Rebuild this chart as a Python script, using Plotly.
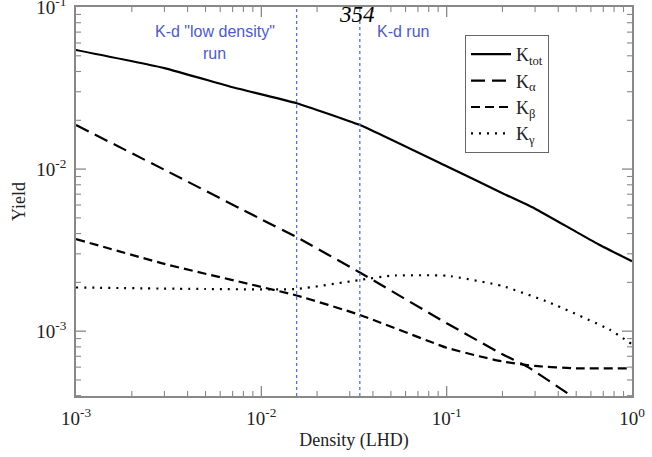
import plotly.graph_objects as go

# Data
x_tot = [1e-3, 3e-3, 7e-3, 0.0155, 0.034, 0.1, 0.2, 0.3, 0.5, 0.67, 1.0]
y_tot = [0.0543, 0.042, 0.032, 0.0255, 0.0187, 0.0104, 0.0071, 0.0057, 0.0041, 0.0034, 0.0027]

x_alpha = [1e-3, 3e-3, 0.01, 0.0155, 0.034, 0.1, 0.2, 0.275, 0.5, 0.6]
y_alpha = [0.0187, 0.0099, 0.0049, 0.0038, 0.0023, 0.00112, 0.00072, 0.00060, 0.00038, 0.00032]

x_beta = [1e-3, 3e-3, 0.0155, 0.034, 0.1, 0.15, 0.2, 0.3, 0.5, 1.0]
y_beta = [0.0037, 0.0026, 0.00166, 0.00126, 0.00079, 0.00070, 0.00065, 0.00061, 0.00059, 0.00059]

x_gamma = [1e-3, 5e-3, 0.0155, 0.034, 0.05, 0.1, 0.2, 0.36, 0.76, 1.0]
y_gamma = [0.00186, 0.00182, 0.00182, 0.00207, 0.0022, 0.0022, 0.0019, 0.0015, 0.00102, 0.00083]

vlines = [0.0155, 0.034]

x_ticks = [1e-3, 1e-2, 1e-1, 1]
x_ticktext = ["10<sup>-3</sup>", "10<sup>-2</sup>", "10<sup>-1</sup>", "10<sup>0</sup>"]
y_ticks = [1e-3, 1e-2, 1e-1]
y_ticktext = ["10<sup>-3</sup>", "10<sup>-2</sup>", "10<sup>-1</sup>"]

series = [
    ("K<sub>tot</sub>", x_tot, y_tot, "solid"),
    ("K<sub>α</sub>", x_alpha, y_alpha, "14px,7px"),
    ("K<sub>β</sub>", x_beta, y_beta, "9px,5px"),
    ("K<sub>γ</sub>", x_gamma, y_gamma, "2px,6px"),
]

XR = [-3, 0]
YR = [-3.4, -1]

fig = go.Figure()
for name, xs, ys, dash in series:
    fig.add_trace(go.Scatter(x=xs, y=ys, mode="lines", name=name,
                             line=dict(color="black", width=2.2, dash=dash, shape="spline", smoothing=0.4)))

for v in vlines:
    fig.add_shape(type="line", x0=v, x1=v, y0=0, y1=1, xref="x", yref="paper",
                  line=dict(color="#5a6be0", width=1.3, dash="3px,3px"))

def minor_vals(lo, hi):
    out = []
    for d in range(lo, hi):
        for m in range(2, 10):
            out.append(m * 10.0 ** d)
    return out

# tick marks on all four sides (inside), placed through the axes' scales
gray = "#888888"
y_lo, y_hi = 10 ** YR[0], 10 ** YR[1]
for vals, ln, w in [(x_ticks, 10, 1.3), (minor_vals(-3, 0), 5, 1.1)]:
    for v in vals:
        if 10 ** XR[0] < v < 10 ** XR[1]:
            for anchor, sgn in [(0, 1), (1, -1)]:
                fig.add_shape(type="line", xref="x", yref="paper", x0=v, x1=v,
                              ysizemode="pixel", yanchor=anchor, y0=0, y1=sgn * ln,
                              line=dict(color=gray, width=w), layer="above")
for vals, ln, w in [(y_ticks, 10, 1.3), (minor_vals(-4, -1), 5, 1.1)]:
    for v in vals:
        if y_lo < v < y_hi:
            for anchor, sgn in [(0, 1), (1, -1)]:
                fig.add_shape(type="line", xref="paper", yref="y", y0=v, y1=v,
                              xsizemode="pixel", xanchor=anchor, x0=0, x1=sgn * ln,
                              line=dict(color=gray, width=w), layer="above")

serif = "Liberation Serif, Times New Roman, serif"
sans = "Liberation Sans, Arial, sans-serif"
blue = "#4b5bc8"

# plot area: x 76..632, y 7..396
def dx(px):
    return (px - 76) / 556.0

def dy(py):
    return 1 - (py - 7) / 389.0

def note(text, px, py, font):
    fig.add_annotation(x=dx(px), y=dy(py), xref="x domain", yref="y domain",
                       xanchor="center", yanchor="middle", text=text, showarrow=False, font=font)

note('K-d "low density"', 215, 32, dict(family=sans, size=16, color=blue))
note('run', 214, 53, dict(family=sans, size=16, color=blue))
note('K-d run', 403, 32, dict(family=sans, size=16, color=blue))
note("<i>354</i>", 357, 15, dict(family=serif, size=23, color="black"))

axis_common = dict(type="log", showline=True, linecolor=gray, linewidth=1.5, mirror=True,
                   ticks="", showgrid=False, zeroline=False, ticklabeloverflow="allow",
                   automargin=False, ticklabelstandoff=4,
                   tickfont=dict(family=serif, size=19, color="#222222"),
                   title_font=dict(family=serif, size=18, color="#222222"))

fig.update_layout(
    xaxis=dict(**axis_common, range=XR, tickmode="array", tickvals=x_ticks, ticktext=x_ticktext,
               title_text="Density (LHD)", title_standoff=6),
    yaxis=dict(**axis_common, range=YR, tickmode="array", tickvals=y_ticks, ticktext=y_ticktext,
               title_text="Yield", title_standoff=6),
)

fig.update_layout(width=652, height=457, margin=dict(l=76, r=20, t=7, b=61, autoexpand=False),
                  paper_bgcolor="white", plot_bgcolor="white",
                  showlegend=True,
                  legend=dict(x=dx(465), y=dy(35), xanchor="left", yanchor="top",
                              bgcolor="white", bordercolor="#666666", borderwidth=1,
                              font=dict(family=serif, size=18, color="#222222"),
                              tracegroupgap=0, itemwidth=40))

fig.write_html("out.html")
